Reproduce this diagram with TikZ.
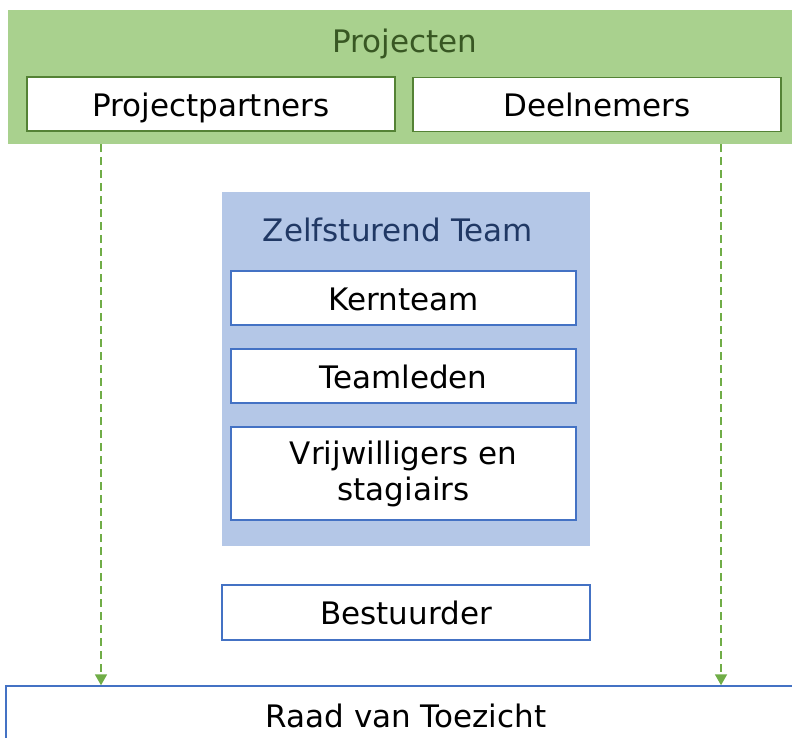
\documentclass[tikz,border=0pt]{standalone}
\usepackage{fontspec}
\setmainfont{DejaVu Sans}
\usetikzlibrary{arrows.meta}

\definecolor{bandgreen}{HTML}{A9D18E}
\definecolor{edgegreen}{HTML}{548235}
\definecolor{textgreen}{HTML}{385723}
\definecolor{linegreen}{HTML}{70AD47}
\definecolor{bandblue}{HTML}{B4C7E7}
\definecolor{edgeblue}{HTML}{4472C4}
\definecolor{textblue}{HTML}{203864}

\tikzset{
  band/.style={inner sep=0pt, outer sep=0pt},
  oneline/.style={text height=29pt, text depth=5pt},
  greenbox/.style={draw=edgegreen, fill=white, line width=1.5pt, inner sep=0pt, oneline},
  bluebox/.style={draw=edgeblue, fill=white, line width=1.5pt, inner sep=0pt, align=center},
  drop/.style={linegreen, line width=1.8pt, dash pattern=on 8pt off 5pt,
    -{Triangle[width=12pt,length=11pt]}}
}

\begin{document}
\begin{tikzpicture}[x=1pt, y=-1pt, font=\fontsize{31}{36}\selectfont]
        \clip (0, 0) rectangle (792, 737);
        \fill[white] (0, 0) rectangle (792, 737);

        % bovenste band
        \node[band, fill=bandgreen, minimum width=800pt, minimum height=134pt] (proj) at (408, 77) {};
        \node[textgreen, inner sep=0pt, oneline] (projtitle) at (405, 40) {Projecten};
        \node[greenbox, minimum width=368pt, minimum height=54pt] (partners) at (211, 104) {Projectpartners};
        \node[greenbox, minimum width=368pt, minimum height=54pt] (deeln) at (597, 104.5) {Deelnemers};

        % zelfsturend team
        \node[band, fill=bandblue, minimum width=368pt, minimum height=354pt] (team) at (406, 369) {};
        \node[textblue, inner sep=0pt, oneline] (teamtitle) at (398, 229) {Zelfsturend Team};
        \node[bluebox, oneline, minimum width=345pt, minimum height=54pt] (kern) at (403.5, 298) {Kernteam};
        \node[bluebox, oneline, minimum width=345pt, minimum height=54pt] (leden) at (403.5, 376) {Teamleden};
        \node[bluebox, minimum width=345pt, minimum height=93pt] (vrijw) at (403.5, 473.5) {Vrijwilligers en\\stagiairs};

        \node[bluebox, oneline, minimum width=368pt, minimum height=55pt] (best) at (406, 612.5) {Bestuurder};
        \node[bluebox, minimum width=800pt, minimum height=100pt] (raad) at (406, 736) {};
        \node[inner sep=0pt, oneline] (raadlabel) at (406, 715) {Raad van Toezicht};

        % stippellijnen
        \coordinate (dropL) at (101, 0);
        \coordinate (dropR) at (721, 0);
        \draw[drop] (proj.south -| dropL) -- (raad.north -| dropL);
        \draw[drop] (proj.south -| dropR) -- (raad.north -| dropR);
    \end{tikzpicture}
\end{document}
